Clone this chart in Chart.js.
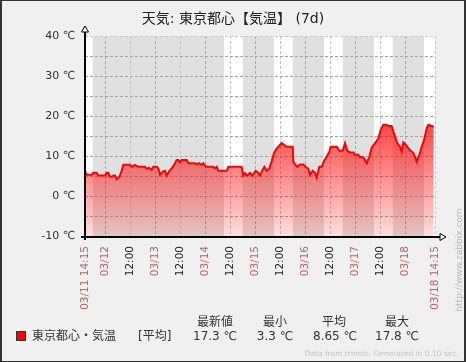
<!DOCTYPE html>
<html lang="ja">
<head>
<meta charset="utf-8">
<title>天気: 東京都心【気温】 (7d)</title>
<script src="https://cdn.jsdelivr.net/npm/chart.js@4.4.1/dist/chart.umd.min.js"></script>
<style>
  body { margin: 0; background: #f0f0f0; }
  #wrap { position: relative; width: 466px; height: 362px; overflow: hidden;
          font-family: "DejaVu Sans", "Noto Sans CJK JP", sans-serif; color: #333; }
  #wrap canvas { position: absolute; left: 0; top: 0; }
  #frame { position: absolute; left: 0; top: 0; width: 466px; height: 362px; box-sizing: border-box;
           border: 1px solid #333; border-left-width: 2px; border-right-width: 2px; pointer-events: none; }
  .t { position: absolute; white-space: nowrap; }
  .title { left: 0; width: 466px; top: 10px; text-align: center; font-size: 14px; line-height: 16px; color: #222; }
  .lg { font-size: 12px; line-height: 14px; }
  .c { transform: translateX(-50%); }
  .swatch { position: absolute; left: 16px; top: 331px; width: 10px; height: 10px; box-sizing: border-box;
            background: #ff0000; border: 1px solid #333; }
  .foot { right: 7px; top: 349px; font-size: 7.5px; line-height: 10px; color: #c4c4c4; }
  .zbx { left: 459px; top: 260px; font-size: 9px; line-height: 10px; color: #b8b8b8;
         transform: translate(-50%, -50%) rotate(-90deg); }
</style>
</head>
<body>
<div id="wrap">
  <canvas id="tempChart" width="466" height="362"></canvas>
  <div class="t title">天気: 東京都心【気温】 (7d)</div>
  <div class="swatch"></div>
  <div class="t lg" style="left:32px; top:329px;">東京都心・気温</div>
  <div class="t lg" style="left:138px; top:329px;">[平均]</div>
  <div class="t lg c" style="left:215px; top:315px;">最新値</div>
  <div class="t lg c" style="left:215px; top:329px;">17.3 ℃</div>
  <div class="t lg c" style="left:275px; top:315px;">最小</div>
  <div class="t lg c" style="left:275px; top:329px;">3.3 ℃</div>
  <div class="t lg c" style="left:334px; top:315px;">平均</div>
  <div class="t lg c" style="left:335px; top:329px;">8.65 ℃</div>
  <div class="t lg c" style="left:397px; top:315px;">最大</div>
  <div class="t lg c" style="left:397px; top:329px;">17.8 ℃</div>
  <div class="t foot">Data from trends. Generated in 0.10 sec.</div>
  <div class="t zbx">http://www.zabbix.com</div>
  <div id="frame"></div>
</div>
<script>
// hours since 03/11 14:15 and the trend average (℃)
const hours = [
  0, 0.8, 3.2, 4.0, 5.6, 6.4, 9.6, 10.4, 11.2, 12.0, 12.8, 13.6, 14.4, 15.2, 16.5, 17.6,
  18.4, 21.6, 22.4, 24.0, 25.6, 28.8, 29.6, 30.7, 32.0, 32.8, 34.4, 35.2, 36.0, 37.3, 38.4, 39.2,
  40.3, 41.9, 43.2, 44.0, 44.8, 45.6, 46.4, 48.8, 49.6, 52.8, 53.6, 54.7, 56.0, 56.8, 58.1, 61.6,
  62.4, 63.2, 64.0, 68.0, 68.8, 75.2, 76.0, 76.8, 77.9, 79.2, 80.3, 81.9, 83.2, 84.0, 85.3, 86.1,
  87.2, 88.5, 89.6, 90.7, 92.0, 92.8, 94.4, 96.0, 96.8, 99.7, 100.0, 100.8, 101.9, 103.2, 104.8, 105.9,
  107.2, 108.0, 109.3, 110.4, 111.2, 112.5, 113.6, 114.7, 116.0, 117.3, 117.9, 120.8, 122.1, 123.7, 124.8, 125.9,
  127.2, 128.8, 129.6, 131.2, 132.0, 133.6, 135.2, 136.5, 137.6, 139.2, 140.8, 141.9, 143.2, 144.8, 145.6, 147.2,
  148.0, 148.8, 149.9, 151.2, 152.0, 152.8, 154.1, 155.2, 156.3, 157.6, 158.4, 159.2, 160.5, 161.6, 162.7, 164.0,
  164.8, 167.4
];
const temps = [
  6.3, 5.3, 5.3, 5.8, 5.8, 5.1, 5.1, 5.8, 5.8, 4.8, 4.8, 5.1, 5.1, 4.2, 4.8, 6.3,
  7.8, 7.8, 7.3, 7.8, 7.3, 7.3, 6.8, 7.1, 6.5, 7.3, 7.3, 6.9, 5.3, 6.1, 6.3, 5.1,
  6.1, 7.1, 8.2, 9.0, 9.0, 8.4, 9.0, 9.0, 8.2, 8.2, 7.9, 8.2, 7.8, 8.2, 7.3, 7.3,
  6.9, 7.3, 6.3, 6.3, 7.3, 7.3, 5.1, 5.7, 5.1, 5.8, 5.1, 6.3, 5.8, 5.1, 6.6, 7.3,
  6.3, 6.9, 8.7, 10.7, 11.9, 12.3, 13.2, 12.6, 12.3, 12.3, 8.6, 7.9, 7.3, 7.9, 7.9, 7.3,
  6.8, 5.3, 6.3, 5.8, 4.6, 7.3, 7.3, 8.7, 9.8, 11.1, 12.3, 12.3, 11.3, 11.3, 13.2, 11.3,
  10.9, 10.9, 10.3, 10.3, 9.7, 9.7, 8.2, 9.8, 12.1, 13.2, 14.4, 16.5, 17.8, 17.8, 17.5, 17.5,
  16.1, 14.9, 13.2, 12.3, 11.1, 13.4, 12.8, 11.9, 11.3, 10.8, 9.8, 8.6, 10.3, 12.3, 13.9, 16.9,
  17.8, 17.3
];

// x ticks (hours since start) and their labels
const tickHours  = [0, 9.75, 21.75, 33.75, 45.75, 57.75, 69.75, 81.75, 93.75, 105.75, 117.75, 129.75, 141.75, 153.75, 168];
const tickLabels = ['03/11 14:15', '03/12', '12:00', '03/13', '12:00', '03/14', '12:00', '03/15', '12:00',
                    '03/16', '12:00', '03/17', '12:00', '03/18', '03/18 14:15'];

// working time (white background), hours since start
const workStart = [0, 66.75, 90.75, 114.75, 138.75, 162.75];
const workEnd   = [3.75, 75.75, 99.75, 123.75, 147.75, 168];

const points = hours.map(function(h, i) { return { x: h, y: temps[i] }; });

const isDate = function(i) { return tickLabels[i].indexOf('/') >= 0; };

const bandsPlugin = {
    id: 'bands',
    beforeDraw: function(chart) {
        var c = chart.ctx, a = chart.chartArea, x = chart.scales.x;
        c.save();
        c.fillStyle = '#e0e0e0';
        c.fillRect(a.left, a.top, a.right - a.left, a.bottom - a.top);
        c.fillStyle = '#ffffff';
        for (var i = 0; i < workStart.length; i++) {
            var x0 = x.getPixelForValue(workStart[i]), x1 = x.getPixelForValue(workEnd[i]);
            c.fillRect(x0, a.top, x1 - x0, a.bottom - a.top);
        }
        c.restore();
    }
};

const axesPlugin = {
    id: 'axes',
    afterDraw: function(chart) {
        var c = chart.ctx, a = chart.chartArea;
        c.save();
        c.strokeStyle = '#000';
        c.lineWidth = 2;
        c.beginPath();
        c.moveTo(a.left, a.bottom + 4); c.lineTo(a.left, a.top - 4);
        c.moveTo(a.left - 4, a.bottom + 1); c.lineTo(a.right + 6, a.bottom + 1);
        c.stroke();
        // arrows
        c.lineWidth = 1;
        c.fillStyle = '#fff';
        c.beginPath();
        c.moveTo(a.left, a.top - 10); c.lineTo(a.left + 3.5, a.top - 4); c.lineTo(a.left - 3.5, a.top - 4); c.closePath();
        c.fill(); c.stroke();
        c.beginPath();
        c.moveTo(a.right + 11, a.bottom + 1); c.lineTo(a.right + 5, a.bottom - 2.5); c.lineTo(a.right + 5, a.bottom + 4.5); c.closePath();
        c.fill(); c.stroke();
        c.restore();
    }
};

new Chart(document.getElementById('tempChart').getContext('2d'), {
    type: 'line',
    data: {
        datasets: [{
            label: '東京都心・気温',
            data: points,
            borderColor: '#ff0000',
            borderWidth: 2,
            pointRadius: 0,
            tension: 0,
            fill: 'start',
            backgroundColor: function(ctx) {
                var chart = ctx.chart;
                if (!chart.chartArea) return 'rgba(255,0,0,0.4)';
                var y = chart.scales.y;
                var g = chart.ctx.createLinearGradient(0, y.getPixelForValue(20), 0, y.getPixelForValue(-10));
                g.addColorStop(0, 'rgba(255,0,0,0.76)');
                g.addColorStop(1, 'rgba(255,0,0,0.13)');
                return g;
            }
        }]
    },
    options: {
        responsive: false,
        animation: false,
        layout: { padding: { left: 0, right: 31, top: 36, bottom: 0 } },
        plugins: { legend: { display: false }, title: { display: false }, tooltip: { enabled: false } },
        scales: {
            x: {
                type: 'linear', min: 0, max: 168,
                afterBuildTicks: function(scale) { scale.ticks = tickHours.map(function(v) { return { value: v }; }); },
                afterFit: function(scale) { scale.height = 126; },
                grid: {
                    drawTicks: false,
                    color: function(ctx) {
                        var i = ctx.index;
                        if (i === tickHours.length - 1) return '#c8c8c8';
                        return isDate(i) ? '#a8a8a8' : '#c4c4c4';
                    }
                },
                border: { display: false, dash: [3, 2] },
                ticks: {
                    autoSkip: false, minRotation: 90, maxRotation: 90, padding: 10,
                    font: { family: 'DejaVu Sans', size: 10.5 },
                    color: function(ctx) { return isDate(ctx.index) ? '#c46060' : '#222'; },
                    callback: function(v, i) { return tickLabels[i]; }
                }
            },
            y: {
                min: -10, max: 40,
                afterFit: function(scale) { scale.width = 85; },
                grid: {
                    drawTicks: false,
                    color: function(ctx) { return ctx.tick && ctx.tick.value === 40 ? '#c8c8c8' : '#a4a4a4'; }
                },
                border: { display: false, dash: [3, 2] },
                ticks: {
                    stepSize: 5, padding: 10,
                    font: { family: 'DejaVu Sans', size: 11 },
                    color: '#333',
                    callback: function(v) { return v % 10 === 0 ? v + ' ℃' : ''; }
                }
            }
        }
    },
    plugins: [bandsPlugin, axesPlugin]
});
</script>
</body>
</html>
